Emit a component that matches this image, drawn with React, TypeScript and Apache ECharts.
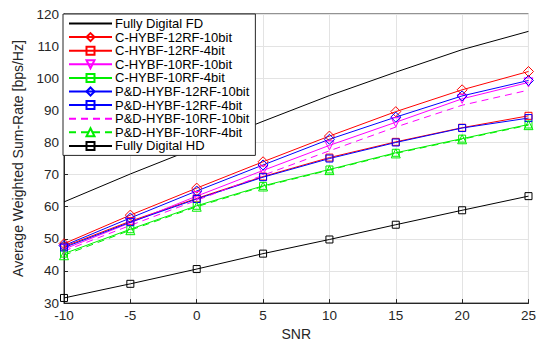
import React, { useEffect, useRef } from "react";
import * as echarts from "echarts";

const snr = [-10, -5, 0, 5, 10, 15, 20, 25];
const fullyDigitalFD = [61.5, 70.2, 78.4, 86.6, 94.6, 101.9, 108.9, 114.6];
const cHybf12rf10 = [48.5, 57.4, 65.8, 74.0, 82.0, 89.6, 96.4, 102.1];
const cHybf12rf4 = [47.6, 55.5, 62.6, 69.4, 75.3, 80.2, 84.6, 88.3];
const cHybf10rf10 = [46.8, 55.0, 63.3, 71.3, 79.1, 86.3, 93.6, 98.7];
const cHybf10rf4 = [45.4, 53.0, 60.3, 66.5, 71.6, 76.8, 81.2, 85.6];
const pdHybf12rf10 = [47.9, 56.5, 64.9, 73.0, 81.0, 87.9, 94.5, 99.3];
const pdHybf12rf4 = [47.3, 55.2, 62.4, 69.2, 75.0, 80.0, 84.5, 87.6];
const pdHybf10rf10 = [46.2, 54.2, 62.0, 69.8, 77.4, 84.8, 91.6, 96.3];
const pdHybf10rf4 = [44.9, 52.7, 60.0, 66.3, 71.4, 76.6, 81.0, 85.4];
const fullyDigitalHD = [31.6, 36.0, 40.6, 45.4, 49.8, 54.4, 58.9, 63.3];

const FONT = "'Liberation Sans', Arial, Helvetica, sans-serif";

type Spec = {
  name: string;
  data: number[];
  color: string;
  symbol: string;
  rotate?: number;
  dashed?: boolean;
};

const specs: Spec[] = [
  { name: "Fully Digital FD", data: fullyDigitalFD, color: "#000000", symbol: "none" },
  { name: "C-HYBF-12RF-10bit", data: cHybf12rf10, color: "#ff0000", symbol: "diamond" },
  { name: "C-HYBF-12RF-4bit", data: cHybf12rf4, color: "#ff0000", symbol: "rect" },
  { name: "C-HYBF-10RF-10bit", data: cHybf10rf10, color: "#ff00ff", symbol: "triangle", rotate: 180 },
  { name: "C-HYBF-10RF-4bit", data: cHybf10rf4, color: "#00ee00", symbol: "rect" },
  { name: "P&D-HYBF-12RF-10bit", data: pdHybf12rf10, color: "#0000ff", symbol: "diamond" },
  { name: "P&D-HYBF-12RF-4bit", data: pdHybf12rf4, color: "#0000ff", symbol: "rect" },
  { name: "P&D-HYBF-10RF-10bit", data: pdHybf10rf10, color: "#ff00ff", symbol: "none", dashed: true },
  { name: "P&D-HYBF-10RF-4bit", data: pdHybf10rf4, color: "#00ee00", symbol: "triangle", dashed: true },
  { name: "Fully Digital HD", data: fullyDigitalHD, color: "#000000", symbol: "rect" },
];

export default function App() {
  const ref = useRef<HTMLDivElement>(null);
  useEffect(() => {
    if (!ref.current) return;
    const chart = echarts.init(ref.current, undefined, { renderer: "svg" });
    const series = specs.map((s) => ({
      name: s.name,
      type: "line",
      data: s.data.map((v, i) => [snr[i], v]),
      symbol: s.symbol,
      symbolSize: s.symbol === "diamond" ? 10 : s.symbol === "triangle" ? 9 : 7,
      symbolRotate: s.rotate || 0,
      showSymbol: s.symbol !== "none",
      lineStyle: { color: s.color, width: 1, type: s.dashed ? [7, 5] : "solid" },
      itemStyle: { color: "rgba(255,255,255,0)", borderColor: s.color, borderWidth: 1 },
      emphasis: { disabled: true },
      z: 3,
    }));
    chart.setOption({
      animation: false,
      backgroundColor: "#ffffff",
      textStyle: { fontFamily: FONT },
      grid: { left: 64, right: 8, top: 14, bottom: 33, show: true, borderColor: "#262626", borderWidth: 1, backgroundColor: "#fff" },
      legend: {
        orient: "vertical",
        left: 63,
        top: 14,
        padding: [3, 6, 3, 5],
        itemWidth: 43,
        itemHeight: 10,
        itemGap: 0.6,
        backgroundColor: "#ffffff",
        borderColor: "#262626",
        borderWidth: 1,
        borderRadius: 0,
        textStyle: { fontFamily: FONT, fontSize: 13, color: "#000", padding: [0, 0, 0, -2] },
        data: specs.map((s) =>
          s.symbol === "none"
            ? { name: s.name, itemStyle: { color: "rgba(0,0,0,0)", borderColor: "rgba(0,0,0,0)", borderWidth: 0 } }
            : { name: s.name }
        ),
        z: 10,
      },
      xAxis: {
        type: "value",
        min: -10,
        max: 25,
        interval: 5,
        name: "SNR",
        nameLocation: "middle",
        nameGap: 22,
        nameTextStyle: { fontFamily: FONT, fontSize: 14, color: "#262626" },
        axisLine: { show: true, onZero: false, lineStyle: { color: "#262626" } },
        axisTick: { show: true, inside: true, length: 4, lineStyle: { color: "#262626" } },
        axisLabel: { fontFamily: FONT, fontSize: 13.5, color: "#262626", margin: 5 },
        splitLine: { show: true, lineStyle: { color: "#e3e3e3", width: 1 } },
      },
      yAxis: {
        type: "value",
        min: 30,
        max: 120,
        interval: 10,
        name: "Average Weighted Sum-Rate [bps/Hz]",
        nameLocation: "middle",
        nameGap: 39,
        nameTextStyle: { fontFamily: FONT, fontSize: 14, color: "#262626" },
        axisLine: { show: true, onZero: false, lineStyle: { color: "#262626" } },
        axisTick: { show: true, inside: true, length: 4, lineStyle: { color: "#262626" } },
        axisLabel: { fontFamily: FONT, fontSize: 13.5, color: "#262626", margin: 5 },
        splitLine: { show: true, lineStyle: { color: "#e3e3e3", width: 1 } },
      },
      series,
    });
    return () => chart.dispose();
  }, []);
  return <div ref={ref} style={{ width: 539, height: 346, position: "absolute", left: 0, top: 0 }} />;
}
